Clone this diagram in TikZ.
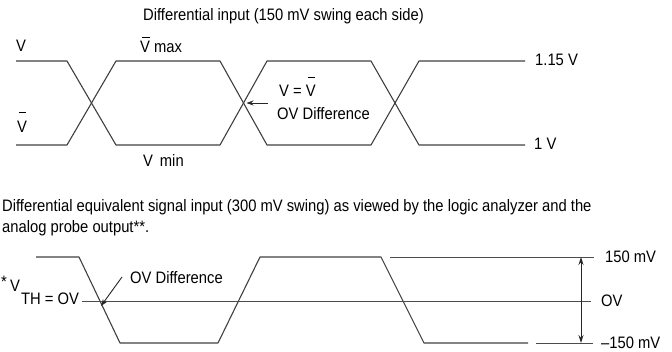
\documentclass[tikz,border=0pt]{standalone}
\usepackage{fontspec}
\setmainfont{Liberation Sans}[FakeStretch=0.89]
\usetikzlibrary{arrows.meta}

% V with a bar over it, #1 = height of the bar above the baseline
\newcommand{\overV}[1]{\leavevmode\rlap{\hspace{1.8pt}\rule[#1]{7.5pt}{1.2pt}}V}

\begin{document}
\begin{tikzpicture}[
    x=1pt, y=-1pt,
    every node/.style={inner sep=0pt, anchor=base west, text=black,
                       font=\fontsize{16.6}{20}\selectfont},
    wave/.style={draw=black!75, line width=1.1pt, line join=round},
    refline/.style={draw=black!70, line width=0.9pt},
    pointer/.style={draw=black!85, line width=0.9pt, -{Stealth[length=7pt,width=5pt]}},
    span/.style={draw=black!85, line width=0.9pt,
                 {Stealth[length=8pt,width=5pt]}-{Stealth[length=8pt,width=5pt]}},
]
  \useasboundingbox (0,0) rectangle (672,352);

  % START OF THE DIFFERENTIAL PAIR

  \node (title) at (143,21) {Differential input (150 mV swing each side)};

  \draw[wave] (16,61) -- (67,61) -- (116,145) -- (220,145) -- (267,61)
              -- (371,61) -- (419,145) -- (525,145);
  \draw[wave] (16,145) -- (67,145) -- (116,61) -- (220,61) -- (267,145)
              -- (371,145) -- (419,61) -- (525,61);

  \node (vtop)  at (16,52)  {V};
  \node (vbar)  at (17,133) {\overV{20pt}};
  \node (vmax)  at (140,53) {\overV{15pt} max};
  \node (vmin)  at (143,167) {V\, min};
  \node (vhigh) at (535,66) {1.15 V};
  \node (vlow)  at (534,150) {1 V};
  \node (equal) at (279,97) {V = \overV{19pt}};
  \node (diff1) at (277,120) {OV Difference};

  \coordinate (cross1) at (243.5,103);
  \coordinate (tail1)  at (268,103);
  \draw[pointer] (tail1) -- ([xshift=3pt]cross1);

  % START OF THE EQUIVALENT SIGNAL

  \node (line1) at (2,212) {Differential equivalent signal input (300 mV swing) as viewed by the logic analyzer and the};
  \node (line2) at (2,233) {analog probe output**.};

  \draw[wave] (36,257) -- (79,257) -- (120,343) -- (218,343) -- (260,257)
              -- (381,257) -- (424,343) -- (528,343);

  \node (star) at (1,288) {*};
  \node (vth)  at (10,292) {V};
  \node (th)   at (21,305) {TH = OV};

  \coordinate (zeroL) at (82,301);
  \coordinate (zeroR) at (591,301);
  \draw[refline] (zeroL) -- (zeroR);
  \draw[refline] (390,257) -- (594,257);
  \draw[refline] (536,343) -- (593,343);

  \node (diff2) at (130,284) {OV Difference};
  \coordinate (cross2) at (100,301);
  \coordinate (tail2)  at (122,277);
  \draw[pointer] (tail2) -- ([shift={(1pt,-5pt)}]cross2);

  \coordinate (top) at (581,257);
  \coordinate (bot) at (581,343);
  \draw[span] (top) -- (bot);

  \node[anchor=west] (plus)  at (605,257) {150 mV};
  \node[anchor=west] (zero)  at (601,301) {OV};
  \node[anchor=west] (minus) at (601,343) {–150 mV};

\end{tikzpicture}
\end{document}
